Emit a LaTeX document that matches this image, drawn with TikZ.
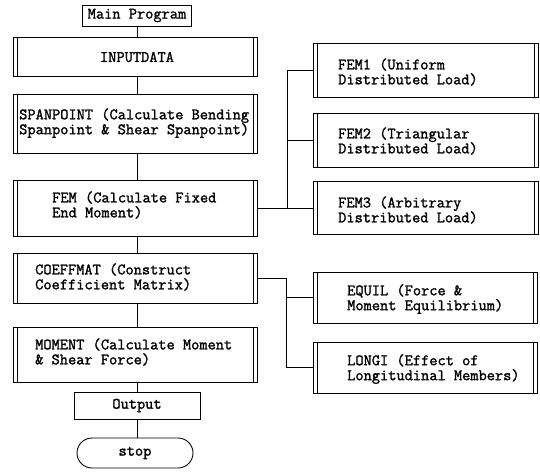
\documentclass[tikz,border=0pt]{standalone}
\usepackage{fontspec}
\setmonofont{Latin Modern Mono}[AutoFakeBold=1.5]
\begin{document}
\begin{tikzpicture}[x=1bp,y=-1bp,
  conn/.style={line width=0.8pt},
  box/.style={draw, line width=0.9pt, rectangle, inner sep=0pt},
  predef/.style={box, path picture={
     \draw[line width=0.8pt] ([xshift=4bp]path picture bounding box.north west) -- ([xshift=4bp]path picture bounding box.south west);
     \draw[line width=0.8pt] ([xshift=-4bp]path picture bounding box.north east) -- ([xshift=-4bp]path picture bounding box.south east);}},
  txt/.style={font=\ttfamily\bfseries\fontsize{16}{15}\selectfont, align=left, inner sep=0pt, anchor=west},
  ctxt/.style={font=\ttfamily\bfseries\fontsize{16}{15}\selectfont, inner sep=0pt},
]
\useasboundingbox (0,0) rectangle (540,474);
% main column
\node[box, minimum width=109bp, minimum height=21bp, font=\ttfamily\bfseries\fontsize{16}{15}\selectfont] (main) at (137,15.5) {Main Program};
\node[predef, minimum width=244bp, minimum height=39bp] (input) at (135,56.5) {};
\node[ctxt] (inputt) at (137,57) {INPUTDATA};
\node[predef, minimum width=244bp, minimum height=59bp] (span) at (135,123.5) {};
\node[txt] (spant) at (19,123) {SPANPOINT (Calculate Bending\\Spanpoint \& Shear Spanpoint)};
\node[predef, minimum width=244bp, minimum height=56bp] (fem) at (135,208) {};
\node[txt] (femt) at (52,205) {FEM (Calculate Fixed\\End Moment)};
\node[predef, minimum width=244bp, minimum height=50bp] (coef) at (135,278) {};
\node[txt] (coeft) at (35,277) {COEFFMAT (Construct\\Coefficient Matrix)};
\node[predef, minimum width=244bp, minimum height=55bp] (mom) at (135,354.5) {};
\node[txt] (momt) at (35,352) {MOMENT (Calculate Moment\\\& Shear Force)};
\node[box, minimum width=126bp, minimum height=27bp, font=\ttfamily\bfseries\fontsize{16}{15}\selectfont] (out) at (137,405.5) {Output};
\node[box, rounded corners=15bp, minimum width=116bp, minimum height=30bp, font=\ttfamily\bfseries\fontsize{16}{15}\selectfont] (stop) at (135,453) {stop};
% right column
\node[predef, minimum width=225bp, minimum height=54bp] (fem1) at (425.5,70) {};
\node[txt] (fem1t) at (338,72) {FEM1 (Uniform\\Distributed Load)};
\node[predef, minimum width=225bp, minimum height=54bp] (fem2) at (425.5,140) {};
\node[txt] (fem2t) at (338,141) {FEM2 (Triangular\\Distributed Load)};
\node[predef, minimum width=225bp, minimum height=53bp] (fem3) at (425.5,208) {};
\node[txt] (fem3t) at (338,210) {FEM3 (Arbitrary\\Distributed Load)};
\node[predef, minimum width=224bp, minimum height=51bp] (equil) at (425,297.5) {};
\node[txt] (equilt) at (347,299) {EQUIL (Force \&\\Moment Equilibrium)};
\node[predef, minimum width=224bp, minimum height=51bp] (longi) at (425,367.5) {};
\node[txt] (longit) at (347,369) {LONGI (Effect of\\Longitudinal Members)};
% spine
\coordinate (sp) at (137,0);
\draw[conn] (sp |- main.south) -- (sp |- input.north);
\draw[conn] (sp |- input.south) -- (sp |- span.north);
\draw[conn] (sp |- span.south) -- (sp |- fem.north);
\draw[conn] (sp |- fem.south) -- (sp |- coef.north);
\draw[conn] (sp |- coef.south) -- (sp |- mom.north);
\draw[conn] (sp |- mom.south) -- (sp |- out.north);
\draw[conn] (sp |- out.south) -- (sp |- stop.north);
% FEM branches
\coordinate (b1) at (287,0);
\draw[conn] (fem.east) -- (fem3.west);
\draw[conn] (b1 |- fem.east) -- (b1 |- fem1.west) -- (fem1.west);
\draw[conn] (b1 |- fem2.west) -- (fem2.west);
% COEFFMAT branches
\coordinate (b2) at (286,0);
\draw[conn] (coef.east) -- (b2 |- coef.east) -- (b2 |- longi.west) -- (longi.west);
\draw[conn] (b2 |- equil.west) -- (equil.west);
\end{tikzpicture}
\end{document}
